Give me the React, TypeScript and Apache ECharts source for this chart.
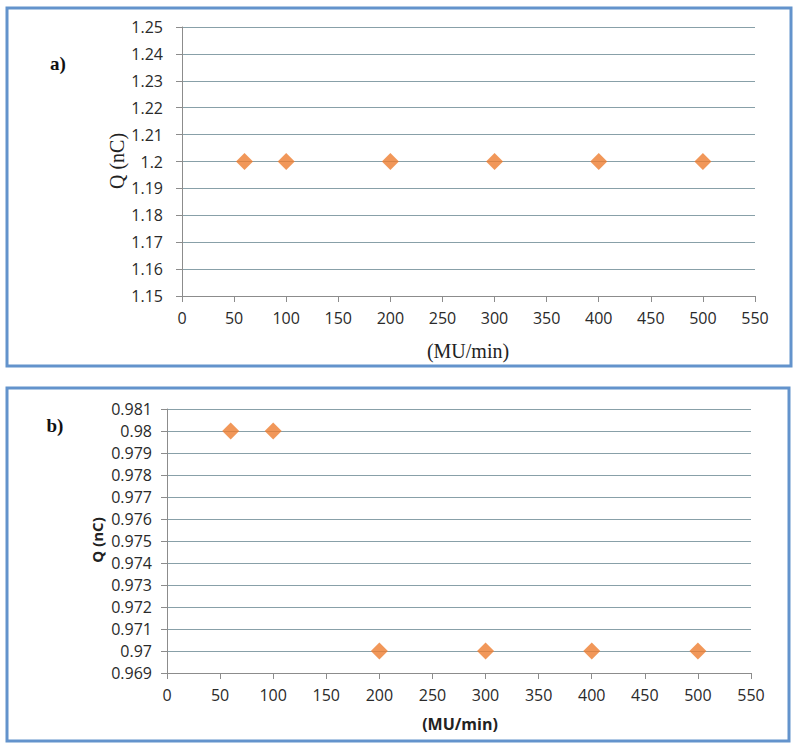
import React, { useEffect, useRef } from "react";
import * as echarts from "echarts";

// Dose rate (MU/min)
const doseRates = [60, 100, 200, 300, 400, 500];
// Panel a) charge Q (nC)
const chargeA = [1.2, 1.2, 1.2, 1.2, 1.2, 1.2];
// Panel b) charge Q (nC)
const chargeB = [0.98, 0.98, 0.97, 0.97, 0.97, 0.97];

const xMin = 0;
const xMax = 550;
const xStep = 50;
const yAMin = 1.15;
const yAMax = 1.25;
const yAStep = 0.01;
const yBMin = 0.969;
const yBMax = 0.981;
const yBStep = 0.001;

const SANS = "'Open Sans', 'Noto Sans', sans-serif";
const SERIF = "'Liberation Serif', 'DejaVu Serif', serif";
const GRID_COLOR = "#88a0a8";
const AXIS_COLOR = "#8c8c8c";
const MARK_COLOR = "#ee7d2f";
const FRAME_COLOR = "#6393cc";

export default function App() {
  const ref = useRef<HTMLDivElement>(null);

  useEffect(() => {
    document.body.style.margin = "0";
    const chart = echarts.init(ref.current!, undefined, { renderer: "svg" });

    const xAxisBase = (gridIndex: number) => ({
      type: "value" as const,
      gridIndex,
      min: xMin,
      max: xMax,
      interval: xStep,
      axisLine: { show: true, lineStyle: { color: AXIS_COLOR, width: 1 } },
      axisTick: { show: true, inside: false, length: 6, lineStyle: { color: AXIS_COLOR } },
      axisLabel: { margin: 14, fontFamily: SANS, fontSize: 16, color: "#2a2a2a" },
      splitLine: { show: false },
    });

    const yAxisBase = (gridIndex: number, min: number, max: number, interval: number, margin: number) => ({
      type: "value" as const,
      gridIndex,
      min,
      max,
      interval,
      axisLine: { show: true, lineStyle: { color: AXIS_COLOR, width: 1 } },
      axisTick: { show: true, inside: false, length: 6, lineStyle: { color: AXIS_COLOR } },
      axisLabel: { margin, fontFamily: SANS, fontSize: 16, color: "#2a2a2a" },
      splitLine: { show: true, lineStyle: { color: GRID_COLOR, width: 1.2 } },
    });

    chart.setOption({
      animation: false,
      backgroundColor: "#ffffff",
      grid: [
        { left: 182, right: 45, top: 27, height: 269 },
        { left: 167, right: 49, top: 409, height: 264 },
      ],
      xAxis: [xAxisBase(0), xAxisBase(1)],
      yAxis: [
        yAxisBase(0, yAMin, yAMax, yAStep, 19),
        yAxisBase(1, yBMin, yBMax, yBStep, 15),
      ],
      series: [
        {
          type: "scatter",
          xAxisIndex: 0,
          yAxisIndex: 0,
          symbol: "diamond",
          symbolSize: 17,
          itemStyle: { color: MARK_COLOR },
          data: doseRates.map((x, i) => [x, chargeA[i]]),
        },
        {
          type: "scatter",
          xAxisIndex: 1,
          yAxisIndex: 1,
          symbol: "diamond",
          symbolSize: 17,
          itemStyle: { color: MARK_COLOR },
          data: doseRates.map((x, i) => [x, chargeB[i]]),
        },
      ],
      graphic: [
        {
          type: "rect",
          shape: { x: 7, y: 8, width: 784, height: 358 },
          style: { fill: "none", stroke: FRAME_COLOR, lineWidth: 3 },
          silent: true,
        },
        {
          type: "rect",
          shape: { x: 7, y: 388, width: 782, height: 353 },
          style: { fill: "none", stroke: FRAME_COLOR, lineWidth: 3 },
          silent: true,
        },
        {
          type: "text",
          x: 58,
          y: 63,
          style: {
            text: "a)",
            font: `bold 19px ${SERIF}`,
            fill: "#111",
            align: "center",
            verticalAlign: "middle",
          },
        },
        {
          type: "text",
          x: 55,
          y: 425,
          style: {
            text: "b)",
            font: `bold 19px ${SERIF}`,
            fill: "#111",
            align: "center",
            verticalAlign: "middle",
          },
        },
        {
          type: "text",
          x: 117,
          y: 161,
          rotation: Math.PI / 2,
          style: {
            text: "Q (nC)",
            font: `20px ${SERIF}`,
            fill: "#222",
            align: "center",
            verticalAlign: "middle",
          },
        },
        {
          type: "text",
          x: 468,
          y: 351,
          style: {
            text: "(MU/min)",
            font: `20px ${SERIF}`,
            fill: "#222",
            align: "center",
            verticalAlign: "middle",
          },
        },
        {
          type: "text",
          x: 97,
          y: 540,
          rotation: Math.PI / 2,
          style: {
            text: "Q (nC)",
            font: `bold 15px ${SANS}`,
            fill: "#222",
            align: "center",
            verticalAlign: "middle",
          },
        },
        {
          type: "text",
          x: 460,
          y: 724,
          style: {
            text: "(MU/min)",
            font: `bold 16px ${SANS}`,
            fill: "#222",
            align: "center",
            verticalAlign: "middle",
          },
        },
      ],
    });

    return () => chart.dispose();
  }, []);

  return (
    <div
      ref={ref}
      style={{ position: "absolute", left: 0, top: 0, width: 800, height: 755 }}
    />
  );
}
